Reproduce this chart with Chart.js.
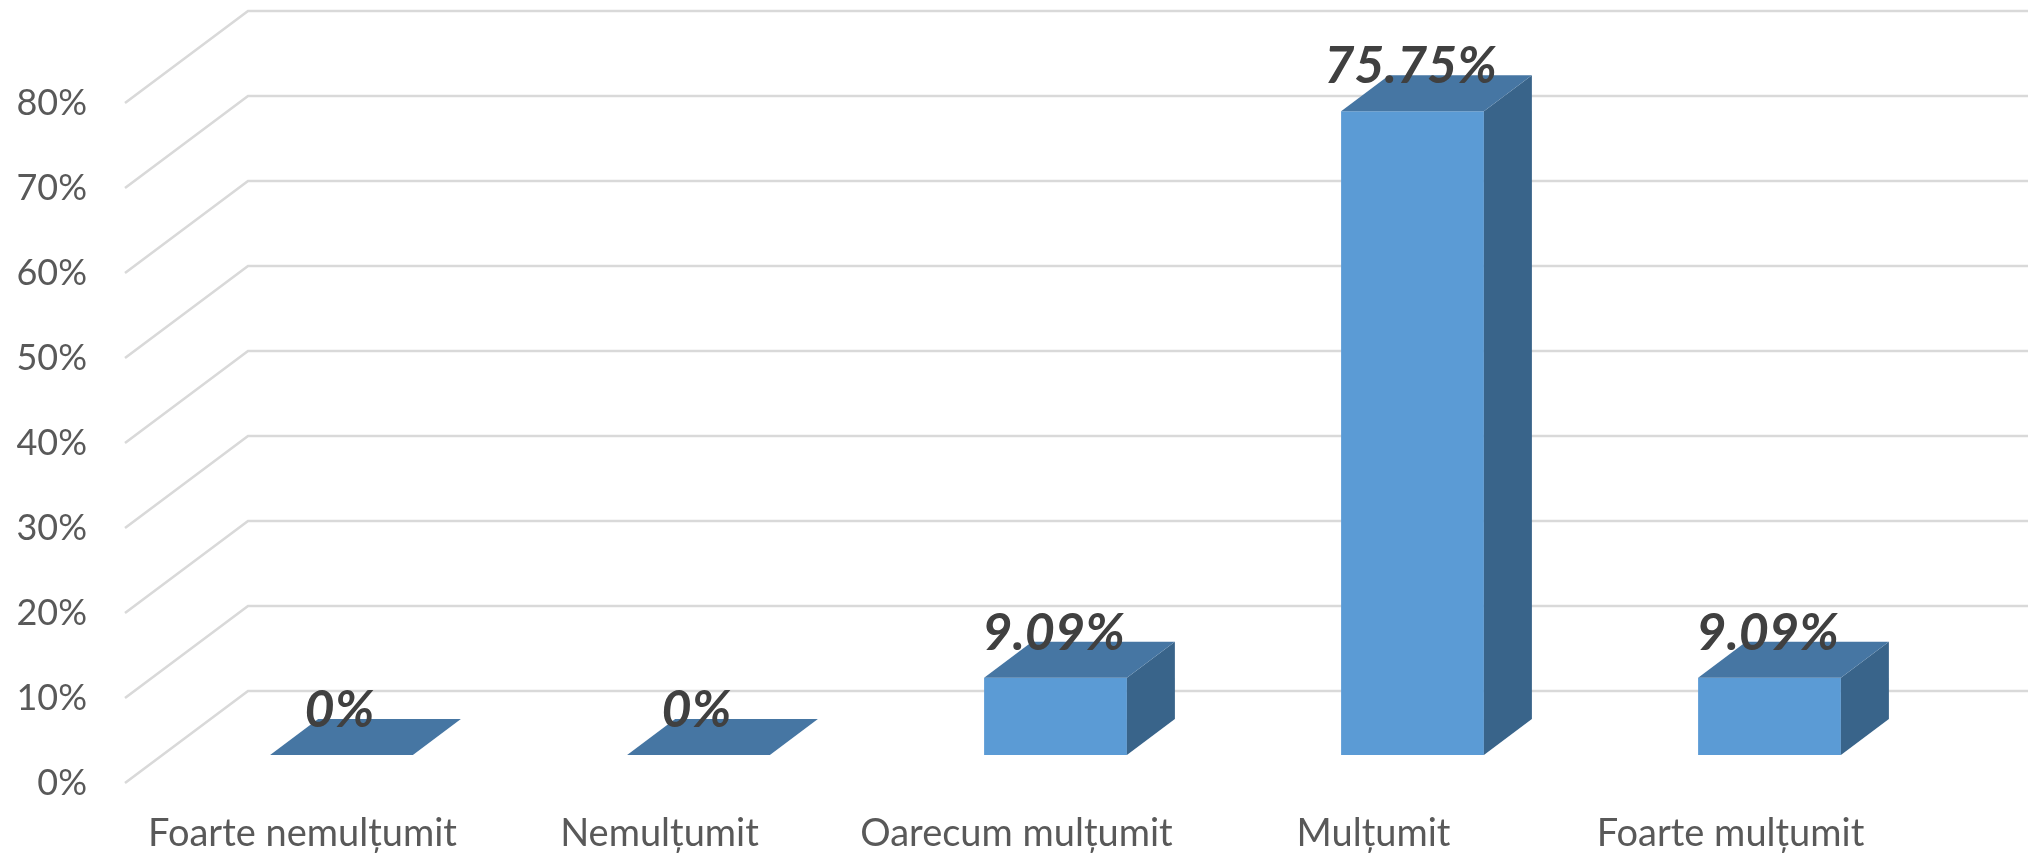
<!DOCTYPE html>
<html><head><meta charset="utf-8">
<style>html,body{margin:0;padding:0;background:#fff}canvas{display:block}</style>
<script src="https://cdn.jsdelivr.net/npm/chart.js@4"></script>
</head><body>
<canvas id="c" width="2028" height="855"></canvas>
<script>
const categories = ["Foarte nemulțumit", "Nemulțumit", "Oarecum mulțumit", "Mulțumit", "Foarte mulțumit"];
const values = [0, 0, 9.09, 75.75, 9.09];
const valueLabels = ["0%", "0%", "9.09%", "75.75%", "9.09%"];
const tickMax = 80;
const tickStep = 10;

// 3D projection used by the drawing plugin
const BAR_DX = 48, BAR_DY = 36;      // depth of a bar box
const WALL_DX = 123, WALL_DY = 92;   // depth of the floor
const FLOOR_SHIFT = 28 / 8.5;        // bars stand this many % units above the axis front edge

function poly(ctx, pts, fill) {
  ctx.beginPath();
  pts.forEach((p, i) => i ? ctx.lineTo(p[0], p[1]) : ctx.moveTo(p[0], p[1]));
  ctx.closePath();
  ctx.fillStyle = fill;
  ctx.fill();
}

const walls = {
  id: 'walls',
  beforeDatasetsDraw(chart) {
    const { ctx, chartArea, scales } = chart;
    const s = scales.yAxis;
    ctx.save();
    ctx.strokeStyle = '#d9d9d9';
    ctx.lineWidth = 2.6;
    s.ticks.forEach(t => {
      const y = s.getPixelForValue(t.value);
      ctx.beginPath();
      ctx.moveTo(chartArea.left - 38, y);
      ctx.lineTo(chartArea.left - 38 + WALL_DX, y - WALL_DY);
      ctx.lineTo(chart.width, y - WALL_DY);
      ctx.stroke();
    });
    ctx.restore();
  }
};

const box = {
  id: 'box',
  afterDatasetsDraw(chart) {
    const { ctx } = chart;
    const bars = chart.getDatasetMeta(0).data;
    ctx.save();
    bars.forEach(b => {
      const { x, y, base, width } = b.getProps(['x', 'y', 'base', 'width'], true);
      const l = x - width / 2, r = x + width / 2;
      poly(ctx, [[r, y], [r + BAR_DX, y - BAR_DY], [r + BAR_DX, base - BAR_DY], [r, base]], '#39648a');
      poly(ctx, [[l, y], [l + BAR_DX, y - BAR_DY], [r + BAR_DX, y - BAR_DY], [r, y]], '#4676a3');
    });
    ctx.font = 'italic bold 52px Lato';
    ctx.fillStyle = '#404040';
    ctx.textAlign = 'center';
    ctx.textBaseline = 'middle';
    bars.forEach((b, i) => {
      const { x, y } = b.getProps(['x', 'y'], true);
      ctx.fillText(valueLabels[i], x - 2, y - 45);
    });
    ctx.restore();
  }
};

new Chart(document.getElementById('c'), {
  type: 'bar',
  data: {
    labels: categories,
    datasets: [{
      data: values,
      yAxisID: 'y',
      backgroundColor: '#5b9bd5',
      borderWidth: 0,
      barPercentage: 0.4,
      categoryPercentage: 1
    }]
  },
  options: {
    responsive: false,
    animation: false,
    layout: { padding: { top: 103, right: 80, left: 0, bottom: 0 } },
    plugins: { legend: { display: false }, title: { display: false }, tooltip: { enabled: false } },
    scales: {
      x: {
        grid: { display: false, drawTicks: false },
        border: { display: false },
        afterFit(s) { s.height = 72; },
        ticks: { color: '#595959', font: { family: 'Lato', size: 38 }, padding: 28, labelOffset: -39, maxRotation: 0, autoSkip: false }
      },
      yAxis: {
        position: 'left',
        min: 0,
        max: tickMax,
        grid: { display: false, drawTicks: true, tickLength: 76 },
        border: { display: false },
        afterFit(s) { s.width = 163; },
        ticks: { stepSize: tickStep, color: '#595959', font: { family: 'Lato', size: 36 }, padding: 0, callback: v => v + '%' }
      },
      y: {
        display: false,
        min: -FLOOR_SHIFT,
        max: tickMax - FLOOR_SHIFT
      }
    }
  },
  plugins: [walls, box]
});
</script>
</body></html>
